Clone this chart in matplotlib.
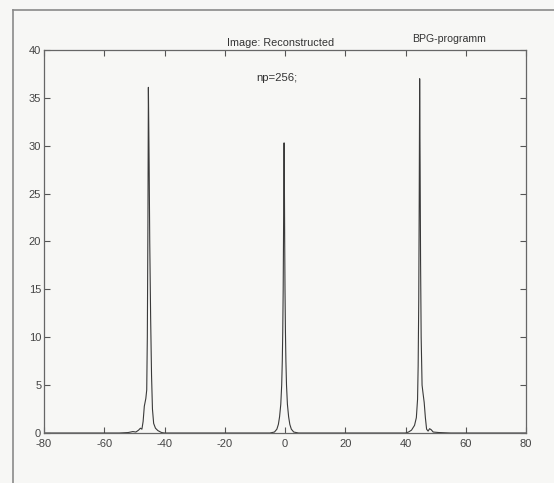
import matplotlib
matplotlib.use("Agg")
import matplotlib.pyplot as plt
from matplotlib.lines import Line2D

plt.rcParams['font.family'] = ['Liberation Sans', 'DejaVu Sans']
plt.rcParams['axes.unicode_minus'] = False

# Reconstructed profile: three peaks (left, centre, right) on a zero baseline
left_x = [-80, -55, -52, -50.5, -49.5, -48.6, -48.0, -47.5, -47.1, -46.7, -46.2,
          -45.9, -45.7, -45.5, -45.35, -45.1, -44.9, -44.6, -44.3, -44.0, -43.6,
          -43.0, -42.2, -41.0, -40.0]
left_y = [0, 0, 0.05, 0.15, 0.1, 0.3, 0.5, 0.4, 1.2, 2.8, 3.6,
          4.5, 10, 22, 36.1, 28, 20, 12, 6, 2.5, 1.0,
          0.5, 0.25, 0.05, 0]

center_x = [-5, -3.5, -2.7, -2.2, -1.8, -1.4, -1.1, -0.9, -0.75, -0.6, -0.5, -0.4,
            -0.3, -0.2, -0.1, 0.0, 0.15, 0.3, 0.5, 0.8, 1.2, 1.6, 2.1, 2.9, 4.5]
center_y = [0, 0.1, 0.4, 0.9, 1.7, 3.0, 5, 7.5, 10.5, 15, 20, 26,
            30.3, 26, 20, 15, 10.5, 7.5, 5, 3.0, 1.7, 0.9, 0.4, 0.1, 0]

right_x = [40, 41, 42, 43, 43.6, 44.0, 44.2, 44.4, 44.55, 44.7, 44.85, 45.0, 45.2,
           45.5, 45.8, 46.2, 46.6, 47.0, 47.5, 48.0, 48.5, 49.2, 51, 55, 80]
right_y = [0, 0.1, 0.3, 0.8, 1.6, 3.5, 7, 14, 24, 37, 28, 18, 10,
           5.0, 4.2, 3.2, 1.6, 0.4, 0.2, 0.45, 0.35, 0.1, 0.05, 0, 0]

x_ticks = [-80, -60, -40, -20, 0, 20, 40, 60, 80]
y_ticks = [0, 5, 10, 15, 20, 25, 30, 35, 40]

x_all = left_x + center_x + right_x
y_all = left_y + center_y + right_y

W, H = 554, 483
bg = '#f7f7f5'
fig = plt.figure(figsize=(W / 100, H / 100), dpi=100, facecolor=bg)

ax_l, ax_r, ax_t, ax_b = 44, 526, 50, 433
ax = fig.add_axes([ax_l / W, (H - ax_b) / H, (ax_r - ax_l) / W, (ax_b - ax_t) / H])
ax.set_facecolor(bg)

ax.plot(x_all, y_all, color='#3a3a3a', lw=0.8)

ax.set_xlim(-80, 80)
ax.set_ylim(0, 40)
ax.set_xticks(x_ticks)
ax.set_yticks(y_ticks)
ax.tick_params(direction='in', length=4, width=0.8, colors='#555555',
               labelcolor='#444444', labelsize=8, top=True, right=True)
ax.tick_params(axis='x', pad=4)
ax.tick_params(axis='y', pad=2)
for s in ax.spines.values():
    s.set_color('#666666')
    s.set_linewidth(0.9)

fig.text(281 / W, 1 - 46 / H, 'Image: Reconstructed', ha='center', va='baseline',
         fontsize=7.8, color='#333333')
fig.text(449 / W, 1 - 42 / H, 'BPG-programm', ha='center', va='baseline',
         fontsize=7.6, color='#333333')
fig.text(277 / W, 1 - 78 / H, 'np=256;', ha='center', va='center',
         fontsize=8.2, color='#333333')

# scan frame
fig.add_artist(Line2D([13 / W, 13 / W], [0, 1 - 10 / H], transform=fig.transFigure,
                      color='#8a8a8a', lw=1.2))
fig.add_artist(Line2D([13 / W, 1], [1 - 10 / H, 1 - 10 / H], transform=fig.transFigure,
                      color='#8a8a8a', lw=1.2))

fig.savefig('out.png', dpi=100, facecolor=bg)
